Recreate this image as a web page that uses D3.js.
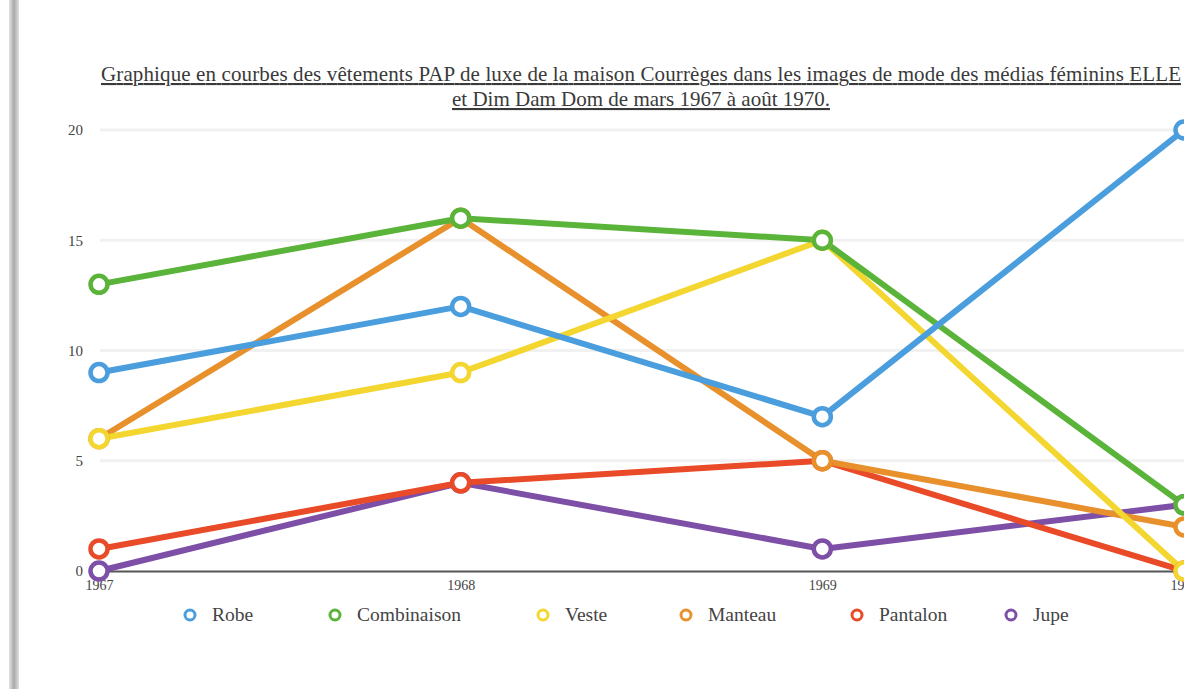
<!DOCTYPE html>
<html>
<head>
<meta charset="utf-8">
<script src="https://cdn.jsdelivr.net/npm/d3@7"></script>
<style>
  html, body { margin:0; padding:0; background:#fff; overflow:hidden; }
  svg { display:block; }
</style>
</head>
<body>
<div id="chart"></div>
<script>
// courbes Courrèges -- ELLE / Dim Dam Dom, 1967-1970

const YEARS = [1967, 1968, 1969, 1970];
const Y_TICKS = [0, 5, 10, 15, 20];

const SERIES_NAMES  = ["Robe", "Combinaison", "Veste", "Manteau", "Pantalon", "Jupe"];
const SERIES_COLORS = ["#4b9edd", "#5bb43a", "#f4d630", "#e8902c", "#e94a27", "#7e4fa6"];

const ROBE        = [9, 12, 7, 20];
const COMBINAISON = [13, 16, 15, 3];
const VESTE       = [6, 9, 15, 0];
const MANTEAU     = [6, 16, 5, 2];
const PANTALON    = [1, 4, 5, 0];
const JUPE        = [0, 4, 1, 3];

const TITLE_LINES = [
  "Graphique en courbes des vêtements PAP de luxe de la maison Courrèges dans les images de mode des médias féminins ELLE",
  "et Dim Dam Dom de mars 1967 à  août 1970."
];

const series = [ROBE, COMBINAISON, VESTE, MANTEAU, PANTALON, JUPE].map((vals, i) => ({
  name: SERIES_NAMES[i], color: SERIES_COLORS[i],
  values: vals.map((v, j) => ({ year: YEARS[j], v }))
}));
// first series sits on top in the reference
const drawOrder = series.slice().reverse();

const totalW = 1184, totalH = 689;
const FONT = "'Liberation Serif', 'DejaVu Serif', serif";

const svg = d3.select("#chart").append("svg")
  .attr("width", totalW).attr("height", totalH);

// grey edge on the left of the scan
const grad = svg.append("defs").append("linearGradient").attr("id", "edge");
grad.append("stop").attr("offset", "0%").attr("stop-color", "#e4e4e4");
grad.append("stop").attr("offset", "50%").attr("stop-color", "#a9a9a9");
grad.append("stop").attr("offset", "100%").attr("stop-color", "#e0e0e0");
svg.append("rect").attr("x", 9).attr("y", 0).attr("width", 10).attr("height", totalH)
  .attr("fill", "url(#edge)");

const x = d3.scaleLinear().domain([1967, 1970]).range([99, 1184]);
const y = d3.scaleLinear().domain([0, 20]).range([571, 130]);

// title
const title = svg.append("g");
TITLE_LINES.forEach((t, i) => {
  title.append("text")
    .attr("x", 641).attr("y", 81 + i * 25)
    .attr("text-anchor", "middle")
    .attr("fill", "#3a3a3a")
    .attr("textLength", i === 0 ? 1080 : null)
    .style("font-family", FONT).style("font-size", "21px")
    .style("text-decoration", "underline")
    .text(t);
});

// gridlines
svg.append("g").selectAll("line").data(Y_TICKS.filter(d => d > 0)).join("line")
  .attr("x1", 100).attr("x2", totalW)
  .attr("y1", d => y(d)).attr("y2", d => y(d))
  .attr("stroke", "#f1f1f1").attr("stroke-width", 3);

// y axis labels
svg.append("g").attr("transform", "translate(83,0)")
  .call(d3.axisLeft(y).tickValues(Y_TICKS).tickSize(0).tickPadding(0))
  .call(a => a.select(".domain").remove())
  .call(a => a.selectAll("text")
    .attr("fill", "#444")
    .style("font-family", FONT).style("font-size", "15px"));

// x axis
svg.append("g").attr("transform", `translate(0,${y(0)})`)
  .call(d3.axisBottom(x).tickValues(YEARS).tickFormat(d3.format("d")).tickSize(0).tickPadding(9))
  .call(a => a.select(".domain").attr("stroke", "#555").attr("stroke-width", 2))
  .call(a => a.selectAll("text")
    .attr("fill", "#444")
    .style("font-family", FONT).style("font-size", "14px"));

// lines
const line = d3.line().x(d => x(d.year)).y(d => y(d.v));
svg.append("g").selectAll("path").data(drawOrder).join("path")
  .attr("d", d => line(d.values))
  .attr("fill", "none")
  .attr("stroke", d => d.color)
  .attr("stroke-width", 6)
  .attr("stroke-linejoin", "round");

// markers
svg.append("g").selectAll("g").data(drawOrder).join("g")
  .selectAll("circle").data(d => d.values.map(p => ({ ...p, color: d.color }))).join("circle")
  .attr("cx", d => x(d.year)).attr("cy", d => y(d.v)).attr("r", 8.5)
  .attr("fill", "#fff").attr("stroke", d => d.color).attr("stroke-width", 4.5);

// legend
const LEGEND_X = [190, 335, 543, 686, 857, 1011];
const legend = svg.append("g").selectAll("g").data(series).join("g")
  .attr("transform", (d, i) => `translate(${LEGEND_X[i]},615)`);
legend.append("circle").attr("r", 5).attr("fill", "#fff")
  .attr("stroke", d => d.color).attr("stroke-width", 3);
legend.append("text").attr("x", 22).attr("y", 6)
  .attr("fill", "#444")
  .style("font-family", FONT).style("font-size", "19.5px")
  .text(d => d.name);
</script>
</body>
</html>
